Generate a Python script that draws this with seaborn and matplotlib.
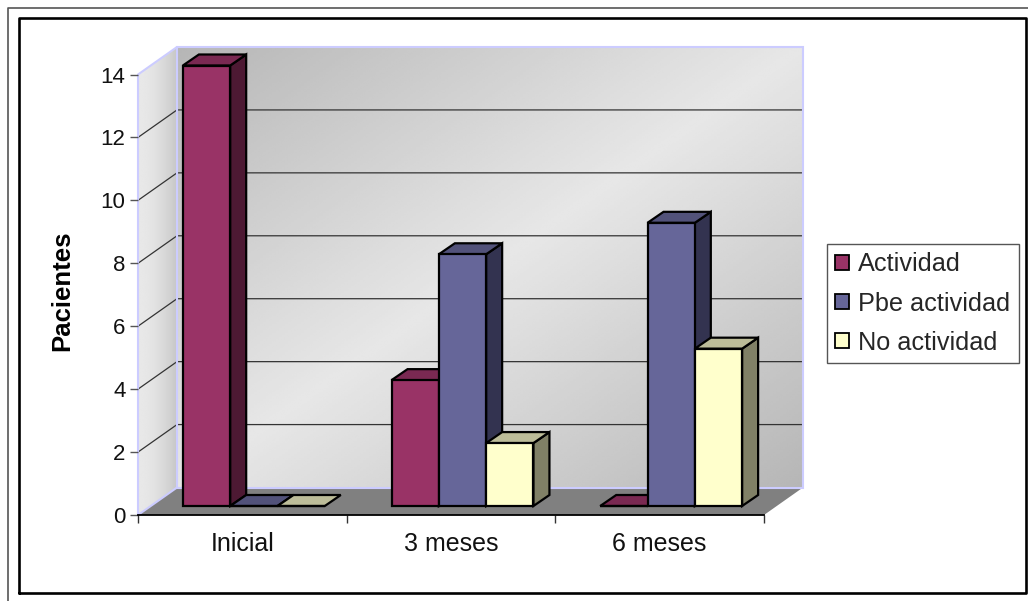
import numpy as np
import pandas as pd
import matplotlib
matplotlib.use("Agg")
import matplotlib.pyplot as plt
from matplotlib.patches import Polygon
import seaborn as sns

# Patients by follow-up time and activity status
momentos = ["Inicial", "3 meses", "6 meses"]
actividad = [14, 4, 0]
pbe_actividad = [0, 8, 9]
no_actividad = [0, 2, 5]
series = ["Actividad", "Pbe actividad", "No actividad"]
y_ticks = [0, 2, 4, 6, 8, 10, 12, 14]

colores = ["#993366", "#666699", "#FFFFCC"]
colores_techo = ["#7A2952", "#52527A", "#BDBD99"]
colores_lado = ["#4D1933", "#333350", "#808066"]

W, H = 1028, 601
sns.set_theme(style="white")
plt.rcParams["font.family"] = ["Liberation Sans", "DejaVu Sans"]

fig = plt.figure(figsize=(W / 100, H / 100), dpi=100, facecolor="white")

# Pixel-space layer for the double picture frame
frame = fig.add_axes([0, 0, 1, 1], zorder=0)
frame.set_xlim(0, W)
frame.set_ylim(H, 0)
frame.axis("off")
frame.plot([8, 8, W], [H, 8, 8], color="#555555", lw=1.2)
frame.plot([19, 19, 1026, 1026, 19], [593, 18, 18, 593, 593], color="black", lw=1.9)

# Front plane of the 3-D box
X0, X1, Y0, Y14 = 138, 764, 515, 74.5
ax = fig.add_axes([X0 / W, 1 - Y0 / H, (X1 - X0) / W, (Y0 - Y14) / H], zorder=1)
ax.patch.set_alpha(0)

df = pd.DataFrame({
    "Momento": momentos * 3,
    "Pacientes": actividad + pbe_actividad + no_actividad,
    "Serie": [s for s in series for _ in momentos],
})
sns.barplot(data=df, x="Momento", y="Pacientes", hue="Serie", order=momentos,
            hue_order=series, palette=colores, saturation=1, width=0.68, gap=0,
            edgecolor="black", linewidth=1.6, ax=ax)
ax.set_xlim(-0.5, 2.5)
ax.set_ylim(0, 14)

px_x = (X1 - X0) / 3
px_y = (Y0 - Y14) / 14

# Depth of the box and of the bars, in data units
box_dx, box_dy = 39 / px_x, 27.5 / px_y
bar_shift_x, bar_shift_y = 11.5 / px_x, 9 / px_y
bar_dx, bar_dy = 16 / px_x, 11 / px_y

xl, xr = -0.5, 2.5
yt = 14
wall = "#CCCCFF"


def gradient(values, extent, clip_poly, z):
    im = ax.imshow(values, extent=extent, cmap="gray", vmin=0, vmax=1, aspect="auto",
                   origin="upper", zorder=z, interpolation="bilinear")
    # Reach past the axes box; only the wall outline limits the image
    im.set_clip_box(fig.bbox)
    im.set_clip_path(Polygon(clip_poly, closed=True, transform=ax.transData))


# Back wall: diagonal shading, dark in the corners and light through the middle
u, v = np.meshgrid(np.linspace(0, 1, 200), np.linspace(0, 1, 200))
t = (u + v) / 2
back = (0xB6 + (0xE7 - 0xB6) * (1 - np.abs(2 * t - 1))) / 255
back_poly = [(xl + box_dx, box_dy), (xr + box_dx, box_dy),
             (xr + box_dx, yt + box_dy), (xl + box_dx, yt + box_dy)]
gradient(back, (xl + box_dx, xr + box_dx, box_dy, yt + box_dy), back_poly, 0.1)

# Side wall: horizontal shading
side = np.tile((0xE8 + (0xC6 - 0xE8) * np.linspace(0, 1, 100) ** 2) / 255, (50, 1))
side_poly = [(xl, 0), (xl + box_dx, box_dy), (xl + box_dx, yt + box_dy), (xl, yt)]
gradient(side, (xl, xl + box_dx, 0, yt + box_dy), side_poly, 0.1)

ax.set_xlim(xl, xr)
ax.set_ylim(0, 14)

# Floor
ax.add_patch(Polygon([(xl, 0), (xr, 0), (xr + box_dx, box_dy), (xl + box_dx, box_dy)],
                     closed=True, facecolor="#808080", edgecolor="none",
                     zorder=0.2, clip_on=False))

# Gridlines run along the side wall and across the back wall
for val in y_ticks[1:-1]:
    ax.plot([xl, xl + box_dx, xr + box_dx], [val, val + box_dy, val + box_dy],
            color="#333333", lw=0.9, zorder=0.3, clip_on=False)

# Wall outlines
ax.add_patch(Polygon(back_poly, closed=True, fill=False, edgecolor=wall, lw=1.5,
                     zorder=0.4, clip_on=False))
ax.plot([xl, xl, xl + box_dx], [0, yt, yt + box_dy], color=wall, lw=1.5, zorder=0.4, clip_on=False)
ax.plot([xl, xl + box_dx], [0, box_dy], color=wall, lw=1.5, zorder=0.4, clip_on=False)

# Move the bars onto their plane in the box and add the top and side faces
faces = []
for i, cont in enumerate(ax.containers):
    for bar in cont:
        bar.set_x(bar.get_x() + bar_shift_x)
        bar.set_y(bar_shift_y)
        bar.set_clip_on(False)
        faces.append((bar.get_x(), i, bar))
faces.sort(key=lambda f: f[0])

for n, (x, i, bar) in enumerate(faces):
    z = 2 + n * 0.1
    w = bar.get_width()
    bot, top = bar.get_y(), bar.get_y() + bar.get_height()
    bar.set_zorder(z + 0.02)
    if bar.get_height() > 0:
        ax.add_patch(Polygon([(x + w, bot), (x + w + bar_dx, bot + bar_dy),
                              (x + w + bar_dx, top + bar_dy), (x + w, top)],
                             closed=True, facecolor=colores_lado[i], edgecolor="black",
                             lw=1.6, zorder=z, clip_on=False))
    ax.add_patch(Polygon([(x, top), (x + w, top), (x + w + bar_dx, top + bar_dy),
                          (x + bar_dx, top + bar_dy)],
                         closed=True, facecolor=colores_techo[i], edgecolor="black",
                         lw=1.6, zorder=z + 0.01, clip_on=False))

# Axes furniture
for name in ("top", "left", "right"):
    ax.spines[name].set_visible(False)
ax.spines["bottom"].set_color("black")
ax.spines["bottom"].set_linewidth(1.3)
ax.spines["bottom"].set_zorder(1)
ax.set_yticks(y_ticks)
ax.set_xticks([-0.5, 0.5, 1.5, 2.5], minor=False)
ax.set_xticklabels([])
ax.set_xticks([0, 1, 2], labels=momentos, minor=True)
ax.tick_params(axis="x", which="major", length=6, width=1, color="#333333",
               bottom=True, direction="out")
ax.tick_params(axis="x", which="minor", length=0, pad=12, labelsize=18, labelcolor="#111111")
ax.tick_params(axis="y", length=6, width=1, color="#555555", left=True, pad=3,
               labelsize=16, labelcolor="#111111")
ax.set_xlabel("")
ax.set_ylabel("Pacientes", fontsize=18.5, fontweight="bold", color="black")
ax.yaxis.set_label_coords((74 - X0) / (X1 - X0), (Y0 - 291) / (Y0 - Y14))

# Legend box on the right of the plot
sns.move_legend(ax, loc="upper left", bbox_to_anchor=(827 / W, 1 - 244 / H),
                bbox_transform=fig.transFigure, title=None, frameon=True, fancybox=False,
                edgecolor="#555555", framealpha=1, fontsize=18.2, borderaxespad=0,
                borderpad=0.33, labelspacing=0.6, handlelength=0.55, handleheight=0.55,
                handletextpad=0.36)
leg = ax.get_legend()
leg.get_frame().set_linewidth(1)
leg.set_zorder(10)
for h in leg.legend_handles:
    h.set_edgecolor("black")
    h.set_linewidth(1.3)

fig.savefig("out.png", dpi=100)
